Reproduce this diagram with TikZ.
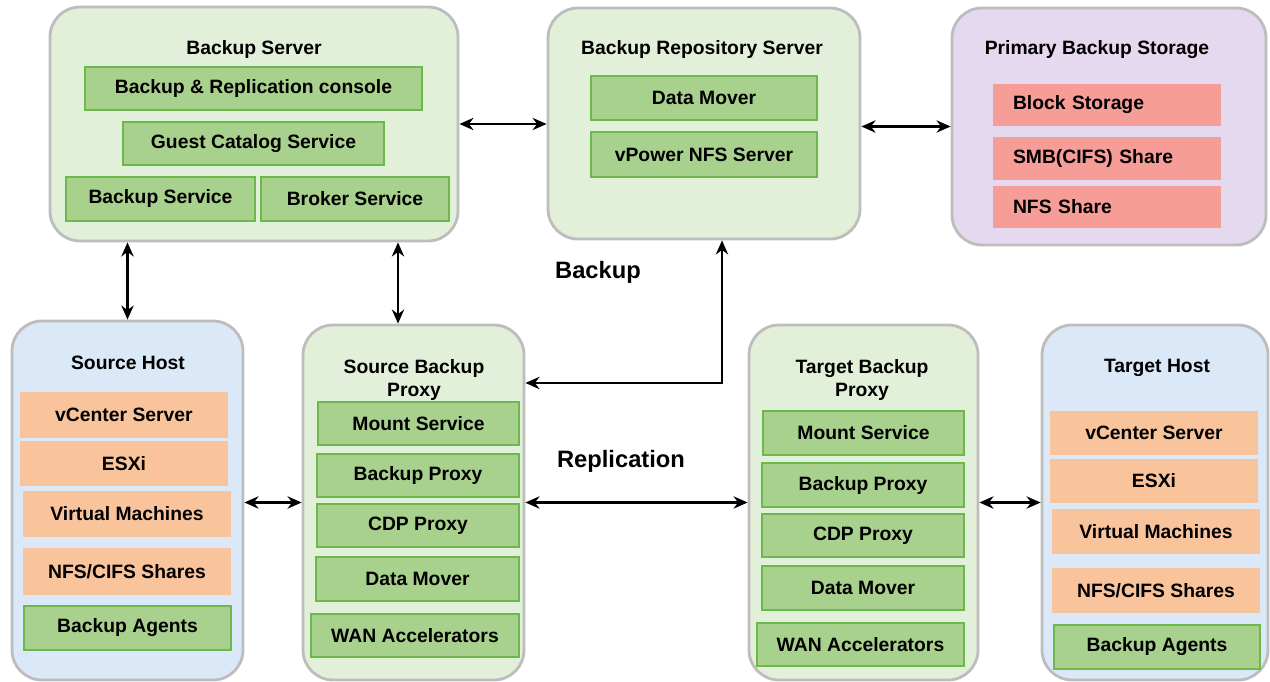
\documentclass[tikz,border=0pt]{standalone}
\usepackage{fontspec}
\setmainfont{Liberation Sans}
\usetikzlibrary{arrows.meta}
\definecolor{panelgreen}{HTML}{E2F0D9}
\definecolor{panelblue}{HTML}{DAE8F7}
\definecolor{panelpurple}{HTML}{E5D9EF}
\definecolor{panelborder}{HTML}{BDBDBD}
\definecolor{itemgreen}{HTML}{A9D18E}
\definecolor{itemborder}{HTML}{6CB84C}
\definecolor{itemorange}{HTML}{F9C39C}
\definecolor{itemred}{HTML}{F69D97}
\newcommand{\pu}{0.02cm}
\tikzset{
	wh/.style 2 args={minimum width=#1*\pu, minimum height=#2*\pu},
	panel/.style={draw=panelborder, line width=1.6pt, rounded corners=0.6cm, inner sep=0pt},
	title/.style={font=\bfseries\fontsize{11}{13.6}\selectfont, align=center, inner sep=0pt},
	item/.style={font=\bfseries\fontsize{11}{12}\selectfont, inner sep=0pt},
	gitem/.style={item, fill=itemgreen, draw=itemborder, line width=1.5pt},
	oitem/.style={item, fill=itemorange},
	ritem/.style={item, fill=itemred, align=left, text width=3.76cm, inner xsep=0.4cm},
	flowlabel/.style={font=\bfseries\fontsize{13.5}{16}\selectfont, inner sep=0pt},
	arr/.style={{Stealth[length=8pt,width=7pt]}-{Stealth[length=8pt,width=7pt]}, line width=1.4pt}
}
\begin{document}
\begin{tikzpicture}[x=0.02cm, y=-0.02cm]
			\useasboundingbox (0,0) rectangle (1270,682);
			\node[panel, fill=panelgreen, wh={408}{234}] (bs) at (254,124) {};
			\node[title] (bsTitle) at (254,50) {Backup Server};
			\node[gitem, wh={337}{43}] (bsConsole) at (253.5,88.5) {Backup \& Replication console};
			\node[gitem, wh={261}{43}] (bsCatalog) at (253.5,143.5) {Guest Catalog Service};
			\node[gitem, wh={189}{44}] (bsBackup) at (160.5,199) {Backup Service};
			\node[gitem, wh={188}{44}] (bsBroker) at (355,199) {Broker Service};
			\node[panel, fill=panelgreen, wh={312}{231}] (repo) at (704,123.5) {};
			\node[title] (repoTitle) at (702,50) {Backup Repository Server};
			\node[gitem, wh={226}{44}] (repoMover) at (704,98) {Data Mover};
			\node[gitem, wh={226}{45}] (repoNfs) at (704,154.5) {vPower NFS Server};
			\node[panel, fill=panelpurple, wh={314}{237}] (prim) at (1109,126.5) {};
			\node[title] (primTitle) at (1097,50) {Primary Backup Storage};
			\node[ritem, wh={228}{42}] (primBlock) at (1107,105) {Block Storage};
			\node[ritem, wh={228}{43}] (primSmb) at (1107,158.5) {SMB(CIFS) Share};
			\node[ritem, wh={228}{42}] (primNfs) at (1107,207) {NFS Share};
			\node[panel, fill=panelblue, wh={231}{359}] (sh) at (127.5,500.5) {};
			\node[title] (shTitle) at (128,363) {Source Host};
			\node[oitem, wh={208}{46}] (shVc) at (124,415) {vCenter Server};
			\node[oitem, wh={208}{45}] (shEsxi) at (124,463.5) {ESXi};
			\node[oitem, wh={208}{46}] (shVm) at (127,514) {Virtual Machines};
			\node[oitem, wh={208}{47}] (shShares) at (127,571.5) {NFS/CIFS Shares};
			\node[gitem, wh={207}{44}] (shAgents) at (127.5,628) {Backup Agents};
			\node[panel, fill=panelgreen, wh={221}{355}] (sp) at (413.5,502.5) {};
			\node[title] (spTitle) at (414,380) {Source Backup\\Proxy};
			\node[gitem, wh={201}{43}] (spMount) at (418.5,423.5) {Mount Service};
			\node[gitem, wh={202}{43}] (spProxy) at (418,475.5) {Backup Proxy};
			\node[gitem, wh={202}{43}] (spCdp) at (418,525.5) {CDP Proxy};
			\node[gitem, wh={203}{44}] (spMover) at (417.5,579) {Data Mover};
			\node[gitem, wh={208}{43}] (spWan) at (415,635.5) {WAN Accelerators};
			\node[panel, fill=panelgreen, wh={229}{355}] (tp) at (863.5,502.5) {};
			\node[title] (tpTitle) at (862,380) {Target Backup\\Proxy};
			\node[gitem, wh={201}{44}] (tpMount) at (863.5,433) {Mount Service};
			\node[gitem, wh={202}{44}] (tpProxy) at (863,485) {Backup Proxy};
			\node[gitem, wh={202}{43}] (tpCdp) at (863,535.5) {CDP Proxy};
			\node[gitem, wh={202}{44}] (tpMover) at (863,588) {Data Mover};
			\node[gitem, wh={207}{43}] (tpWan) at (860.5,644.5) {WAN Accelerators};
			\node[panel, fill=panelblue, wh={226}{355}] (th) at (1155,502.5) {};
			\node[title] (thTitle) at (1157,368) {Target Host};
			\node[oitem, wh={208}{44}] (thVc) at (1154,433) {vCenter Server};
			\node[oitem, wh={208}{44}] (thEsxi) at (1154,481) {ESXi};
			\node[oitem, wh={208}{45}] (thVm) at (1156,531.5) {Virtual Machines};
			\node[oitem, wh={208}{45}] (thShares) at (1156,590.5) {NFS/CIFS Shares};
			\node[gitem, wh={206}{44}] (thAgents) at (1157,647) {Backup Agents};
			\node[flowlabel] (backupLbl) at (598,272) {Backup};
			\node[flowlabel] (replLbl) at (621,461) {Replication};
			\coordinate (bsDrop) at (398,0);
			\coordinate (bkTurn) at (722,383);
			\draw[arr] (bs.east) -- (bs.east -| repo.west);
			\draw[arr] (prim.west -| repo.east) -- (prim.west);
			\draw[arr] (sh.north |- bs.south) -- (sh.north);
			\draw[arr] (bs.south -| bsDrop) -- (sp.north -| bsDrop);
			\draw[arr] (repo.south -| bkTurn) -- (bkTurn) -- (sp.east |- bkTurn);
			\draw[arr] (sh.east |- sp.west) -- (sp.west);
			\draw[arr] (sp.east) -- (tp.west);
			\draw[arr] (tp.east) -- (th.west);
		\end{tikzpicture}
\end{document}
